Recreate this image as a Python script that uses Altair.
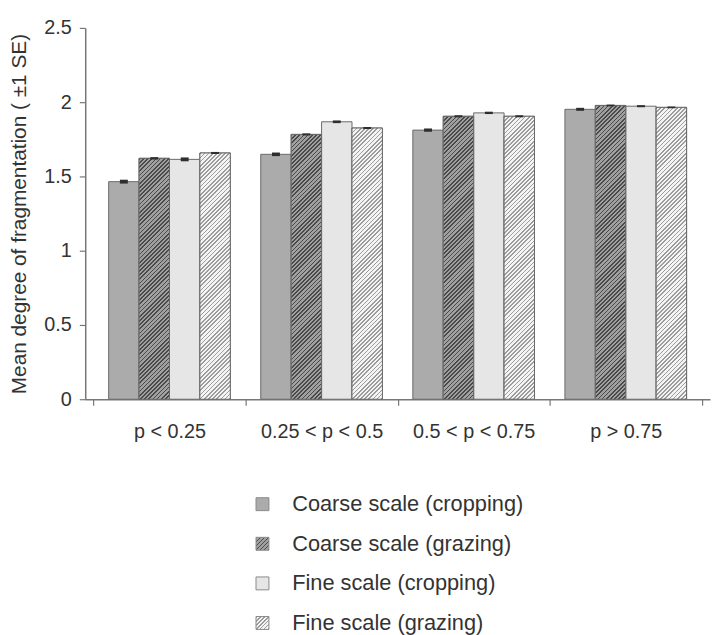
import altair as alt
import pandas as pd

# ---- data ----
groups = ["p < 0.25", "0.25 < p < 0.5", "0.5 < p < 0.75", "p > 0.75"]
series = ["Coarse scale (cropping)", "Coarse scale (grazing)",
          "Fine scale (cropping)", "Fine scale (grazing)"]
coarse_cropping = [1.465, 1.649, 1.812, 1.952]
coarse_grazing = [1.622, 1.783, 1.905, 1.978]
fine_cropping = [1.615, 1.868, 1.928, 1.973]
fine_grazing = [1.658, 1.826, 1.905, 1.965]
se_coarse_cropping = [0.013, 0.012, 0.011, 0.010]
se_coarse_grazing = [0.008, 0.007, 0.007, 0.006]
se_fine_cropping = [0.013, 0.009, 0.008, 0.007]
se_fine_grazing = [0.007, 0.007, 0.007, 0.006]

values = [coarse_cropping, coarse_grazing, fine_cropping, fine_grazing]
ses = [se_coarse_cropping, se_coarse_grazing, se_fine_cropping, se_fine_grazing]

rows = []
for s, vals, errs in zip(series, values, ses):
    for g, v, e in zip(groups, vals, errs):
        rows.append({"group": g, "series": s, "value": v,
                     "lo": v - e, "hi": v + e})
df = pd.DataFrame(rows)

# ---- layout / style ----
W, H = 631, 375
YMAX = 2.5
OUTER = 0.054
OFF_OUTER = 0.5
FONT = "Liberation Sans"
TXT = "#333333"
EDGE = "#6a6a6a"
SYMBOL_SIZE = 170

step = W / (4 + 2 * OUTER)
bar_w = step / (4 + 2 * OFF_OUTER)

hatch_style = {
    series[1]: ("#a0a0a0", "#4a4a4a"),
    series[3]: ("#f4f4f4", "#9c9c9c"),
}


def hatch_stops(h_px, w_px, bg, fg, period=4.2, line=1.7):
    k = h_px / w_px
    denom = w_px * (1 + k * k)
    stops = []
    s = 0.0
    total = w_px + h_px + period
    while s < total:
        t0 = min(s / denom, 1.0)
        t1 = min((s + line) / denom, 1.0)
        t2 = min((s + period) / denom, 1.0)
        stops += [(round(t0, 6), fg), (round(t1, 6), fg),
                  (round(t1, 6), bg), (round(t2, 6), bg)]
        s += period
    return k, stops


def hatch(h_px, w_px, bg, fg):
    k, stops = hatch_stops(h_px, w_px, bg, fg)
    return alt.LinearGradient(
        gradient="linear",
        stops=[alt.GradientStop(offset=o, color=c) for o, c in stops],
        x1=0, y1=0, x2=1, y2=round(k, 6),
    )


def hatch_expr(side, bg, fg):
    k, stops = hatch_stops(side, side, bg, fg, period=4.0, line=1.6)
    st = ",".join("{offset:%s,color:'%s'}" % (o, c) for o, c in stops)
    return alt.ExprRef(expr="{gradient:'linear',x1:0,y1:0,x2:1,y2:1,stops:[%s]}" % st)


sym_side = SYMBOL_SIZE ** 0.5
fill_range = [
    "#ababab",
    hatch_expr(sym_side, *hatch_style[series[1]]),
    "#e6e6e6",
    hatch_expr(sym_side, *hatch_style[series[3]]),
]

x_enc = alt.X("group:N", sort=groups, title=None,
              scale=alt.Scale(paddingInner=0, paddingOuter=OUTER),
              axis=alt.Axis(labelAngle=0, tickBand="extent", tickSize=6,
                            labelPadding=17))
xo_enc = alt.XOffset("series:N", sort=series,
                     scale=alt.Scale(domain=series, paddingInner=0,
                                     paddingOuter=OFF_OUTER))
y_scale = alt.Scale(domain=[0, YMAX], nice=False)
y_enc = alt.Y("value:Q", scale=y_scale,
              title="Mean degree of fragmentation ( \u00b11 SE)",
              axis=alt.Axis(values=[0, 0.5, 1, 1.5, 2, 2.5], format="~g",
                            tickSize=6, labelPadding=8, titlePadding=15,
                            grid=False))

base = alt.Chart(df)

bars = base.mark_bar(stroke=EDGE, strokeWidth=1).encode(
    x=x_enc, xOffset=xo_enc, y=y_enc,
    fill=alt.Fill("series:N", sort=series, title=None,
                  scale=alt.Scale(domain=series, range=fill_range),
                  legend=alt.Legend(orient="none", legendX=168, legendY=470,
                                    direction="vertical", symbolType="square",
                                    symbolSize=SYMBOL_SIZE,
                                    symbolStrokeColor="#8a8a8a",
                                    symbolStrokeWidth=1,
                                    labelFontSize=22, labelFont=FONT,
                                    labelColor=TXT, rowPadding=18,
                                    labelOffset=19, labelLimit=400)),
)

layers = [bars]
for s in [series[1], series[3]]:
    bg, fg = hatch_style[s]
    vals = values[series.index(s)]
    for g, v in zip(groups, vals):
        h_px = v / YMAX * H
        layers.append(
            base.transform_filter(
                (alt.datum.series == s) & (alt.datum.group == g)
            ).mark_bar(fill=hatch(h_px, bar_w, bg, fg), stroke=EDGE,
                       strokeWidth=1).encode(
                x=x_enc, xOffset=xo_enc, y=y_enc)
        )

err = base.mark_rule(color="#2e2e2e", strokeWidth=8, strokeCap="butt").encode(
    x=x_enc, xOffset=xo_enc,
    y=alt.Y("lo:Q", scale=y_scale),
    y2="hi:Q",
)
layers.append(err)

chart = alt.layer(*layers).properties(
    width=W, height=H,
    autosize=alt.AutoSizeParams(type="none"),
    padding={"left": 78, "top": 17, "right": 1, "bottom": 235},
).configure_view(stroke=None).configure_axis(
    labelFont=FONT, labelFontSize=20, labelColor=TXT,
    titleFont=FONT, titleFontSize=21, titleColor=TXT, titleFontWeight="normal",
    domainColor="#777777", domainWidth=1.5, tickColor="#777777", tickWidth=1.2,
)

chart.save("out.html", embed_options={"renderer": "svg", "actions": False})
